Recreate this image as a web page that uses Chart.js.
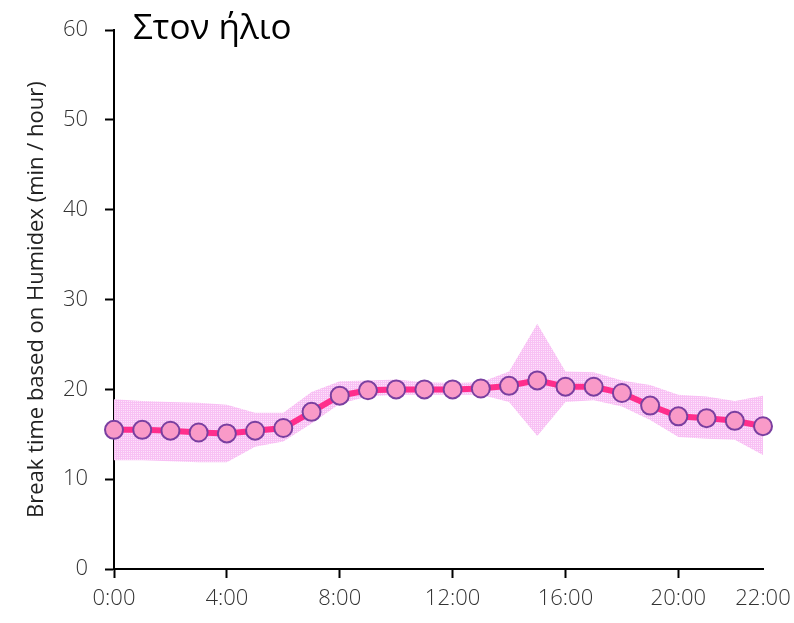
<!DOCTYPE html>
<html>
<head>
<meta charset="utf-8">
<script src="https://cdn.jsdelivr.net/npm/chart.js@4.4.1/dist/chart.umd.min.js"></script>
<style>
  html, body { margin: 0; padding: 0; background: #fff; }
  #wrap { width: 794px; height: 623px; position: relative; }
</style>
</head>
<body>
<div id="wrap"><canvas id="c" width="794" height="623"></canvas></div>
<script>
// ---- data ----
const chartTitle = 'Στον ήλιο';
const yAxisTitle = 'Break time based on Humidex (min / hour)';
const hours = [0,1,2,3,4,5,6,7,8,9,10,11,12,13,14,15,16,17,18,19,20,21,22,23];
const meanValues = [15.5,15.5,15.4,15.2,15.1,15.4,15.7,17.5,19.3,19.9,20.0,20.0,20.0,20.1,20.4,21.0,20.3,20.3,19.6,18.2,17.0,16.8,16.5,15.9];
const upperValues = [18.9,18.7,18.6,18.5,18.3,17.4,17.4,19.7,20.9,21.0,21.1,20.8,20.7,20.8,22.0,27.3,22.0,21.9,21.0,20.5,19.4,19.2,18.7,19.3];
const lowerValues = [12.1,12.1,12.0,11.9,11.9,13.6,14.2,16.2,18.4,19.2,19.4,19.4,19.4,19.4,18.6,14.8,18.6,18.8,18.1,16.6,14.7,14.5,14.4,12.7];
const xTickValues = [0,4,8,12,16,20,23];
const xTickLabels = ['0:00','4:00','8:00','12:00','16:00','20:00','22:00'];
const yTickValues = [0,10,20,30,40,50,60];

// ---- styles ----
const pc = document.createElement('canvas');
pc.width = 2; pc.height = 2;
const pctx = pc.getContext('2d');
pctx.fillStyle = '#f8c0f4'; pctx.fillRect(0,0,2,2);
pctx.fillStyle = '#fde4fb'; pctx.fillRect(1,1,1,1);
const bandPattern = pctx.createPattern(pc, 'repeat');

const toXY = arr => hours.map((h,i) => ({x: h, y: arr[i]}));
const tickFont = { family: '"Open Sans", "Noto Sans", sans-serif', size: 22, weight: 300 };

const titlePlugin = {
  id: 'topTitle',
  afterDraw(chart) {
    const ctx = chart.ctx;
    ctx.save();
    ctx.font = '35px "Open Sans", "Noto Sans", sans-serif';
    ctx.fillStyle = '#000';
    ctx.textBaseline = 'alphabetic';
    ctx.fillText(chartTitle, 133, 39);
    ctx.restore();
  }
};

new Chart(document.getElementById('c'), {
  type: 'line',
  data: {
    datasets: [
      {
        label: 'mean',
        data: toXY(meanValues),
        borderColor: '#ff2e8c',
        borderWidth: 6,
        backgroundColor: '#f99ac8',
        pointBackgroundColor: '#f99ac8',
        pointBorderColor: '#7a3fa0',
        pointBorderWidth: 2,
        pointRadius: 9,
        fill: false,
        clip: false,
        tension: 0
      },
      {
        label: 'upper',
        data: toXY(upperValues),
        borderWidth: 0,
        borderColor: 'rgba(0,0,0,0)',
        pointRadius: 0,
        backgroundColor: bandPattern,
        fill: '+1',
        tension: 0
      },
      {
        label: 'lower',
        data: toXY(lowerValues),
        borderWidth: 0,
        borderColor: 'rgba(0,0,0,0)',
        pointRadius: 0,
        fill: false,
        tension: 0
      }
    ]
  },
  options: {
    responsive: false,
    devicePixelRatio: 1,
    animation: false,
    layout: { padding: { left: 0, right: 31, top: 30, bottom: 0 } },
    plugins: { legend: { display: false }, tooltip: { enabled: false }, title: { display: false } },
    scales: {
      x: {
        type: 'linear',
        min: 0, max: 23,
        afterFit(scale) { scale.height = 54; scale.paddingRight = 0; scale.paddingLeft = 0; },
        afterBuildTicks(scale) { scale.ticks = xTickValues.map(v => ({ value: v })); },
        ticks: {
          autoSkip: false,
          maxRotation: 0,
          padding: 8,
          color: '#333',
          font: tickFont,
          callback: (v) => { const i = xTickValues.indexOf(v); return i >= 0 ? xTickLabels[i] : ''; }
        },
        grid: {
          drawOnChartArea: false,
          drawTicks: true,
          tickLength: 9,
          tickWidth: 2,
          tickColor: (ctx) => (ctx.tick && ctx.tick.value === 23) ? 'rgba(0,0,0,0)' : '#000'
        },
        border: { display: true, color: '#000', width: 2 }
      },
      y: {
        min: 0, max: 60,
        afterFit(scale) { scale.width = 114; },
        afterBuildTicks(scale) { scale.ticks = yTickValues.map(v => ({ value: v })); },
        ticks: {
          padding: 17,
          color: '#333',
          font: tickFont
        },
        grid: {
          drawOnChartArea: false,
          drawTicks: true,
          tickLength: 9,
          tickWidth: 2,
          tickColor: '#000'
        },
        border: { display: true, color: '#000', width: 2 },
        title: {
          display: true,
          text: yAxisTitle,
          color: '#222',
          font: { family: '"Open Sans", "Noto Sans", sans-serif', size: 22, weight: 400 },
          padding: { top: 24, bottom: 0 }
        }
      }
    }
  },
  plugins: [titlePlugin]
});
</script>
</body>
</html>
